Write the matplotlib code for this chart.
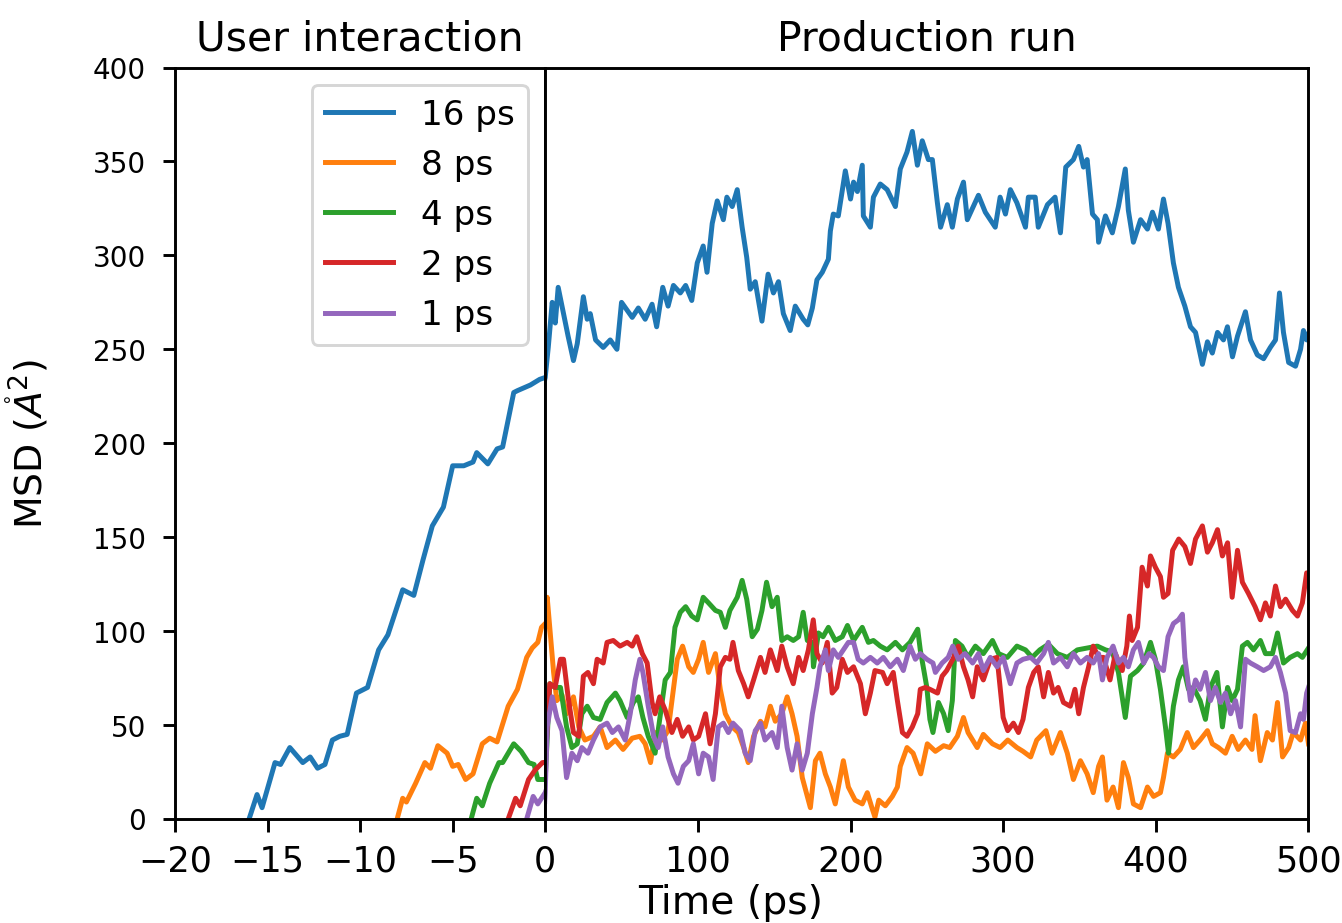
import matplotlib
matplotlib.use("Agg")
import matplotlib.pyplot as plt

labels = ["16 ps", "8 ps", "4 ps", "2 ps", "1 ps"]
colors = ["#1f77b4", "#ff7f0e", "#2ca02c", "#d62728", "#9467bd"]

t16 = [-16, -15.57, -15.3, -14.6, -14.3, -13.8, -13.1, -12.7, -12.3, -11.9, -11.5, -11.1, -10.7,
       -10.2, -9.6, -9.0, -8.5, -7.7, -7.1, -6.6, -6.1, -5.5, -5.0, -4.4, -3.9, -3.7, -3.1, -2.6,
       -2.3, -1.7, -1.5, -0.8, -0.3, 0,
       2, 4.6, 6.6, 8.5, 12, 15, 18.5, 21, 25, 27.5, 29.5, 33, 38, 42.6, 47, 50, 57, 61, 65.5, 70,
       73, 77, 80.5, 84, 88.5, 92, 96, 99.6, 103.5, 106, 109.4, 112.7, 116.7, 119, 122.5, 125.8,
       129, 132, 134.3, 137.6, 142, 146, 149.5, 152.8, 156, 160.5, 163.8, 169, 172, 175, 178,
       181.5, 185.5, 186.8, 188.7, 192, 196.6, 200, 202, 204.5, 207.7, 208.4, 213, 215, 219.5,
       224, 229.4, 232.6, 237, 240.5, 243.8, 247, 251, 253.6, 256.9, 259, 263.4, 266.7, 270, 274,
       276.5, 283.8, 288.3, 294.8, 298, 301.5, 304.7, 309, 314.6, 316.5, 321, 323, 329, 334,
       337.5, 341, 346, 349.5, 352.6, 355, 358.5, 361.7, 362.5, 367, 371.5, 375.5, 380, 382,
       385.3, 390, 394.5, 397.8, 401.7, 405, 408, 411.5, 414.8, 419, 422.7, 426, 430.5, 433.8,
       437, 440.4, 444.3, 446.9, 450.2, 453.5, 458.7, 462, 466.5, 470.6, 475, 478.4, 481, 483.6,
       487, 491.5, 494.8, 496.7, 498.8, 500]
y16 = [0, 13, 6, 30, 29, 38, 30, 33, 27, 29, 42, 44, 45,
       67, 70, 90, 98, 122, 119, 138, 156, 166, 188, 188, 190, 195, 189, 197,
       198, 227, 228, 231, 234, 235,
       251, 275, 264, 283, 269, 257, 244, 253, 278, 266, 269, 255, 251, 255, 250, 275, 267, 272, 266, 274,
       262, 283, 273, 284, 280, 284, 276, 296, 305, 291, 317, 329, 319, 331, 326, 335,
       315, 299, 282, 286, 265, 290, 280, 286, 269, 260, 273, 266, 263, 272, 287,
       291, 298, 313, 322, 321, 345, 330, 339, 334, 348, 321, 315, 331, 338,
       335, 326, 346, 355, 366, 348, 361, 351, 351, 328, 315, 327, 315, 330, 339,
       319, 332, 323, 315, 331, 322, 335, 328, 315, 331, 331, 315, 327, 331,
       312, 347, 351, 358, 347, 351, 322, 319, 307, 321, 312, 326, 346, 324,
       307, 319, 314, 323, 314, 330, 317, 296, 283, 273, 262, 259, 242, 254,
       248, 259, 255, 262, 246, 257, 270, 255, 247, 245, 251, 255, 280, 259,
       243, 241, 250, 260, 255, 258]

t8 = [-8, -7.7, -7.5, -7.0, -6.5, -6.2, -5.8, -5.3, -5.0, -4.7, -4.3, -3.9, -3.4, -3.0, -2.6,
      -2.0, -1.5, -1.0, -0.7, -0.4, -0.2, 0,
      1.3, 3, 5.5, 7.6, 11, 14, 18.5, 22, 26, 31.6, 36, 40.5, 46, 51, 57, 62, 65.5, 69, 72, 76.5,
      80.5, 83, 86.5, 90, 94, 97, 100.5, 103.5, 107, 111.5, 114.7, 118, 122.5, 126.5, 130, 133,
      136.5, 141, 144, 147.5, 150.7, 155, 158.5, 161.7, 165, 168.4, 171.7, 173.7, 177, 180,
      183.5, 186.8, 190, 193, 195.3, 198.6, 203, 207.7, 211, 214, 216, 218.5, 222.8, 227.4,
      230.7, 232.6, 237, 241, 246, 250.3, 255.6, 261, 265, 270, 274, 277, 283, 287, 293, 298,
      303, 309, 313, 318, 322, 328, 332, 337.5, 342, 346, 350.6, 355, 359, 362.5, 365, 368,
      372, 375.5, 378.8, 382, 385.3, 390, 394.5, 398.5, 403, 405, 407.6, 411.5, 416, 420.6,
      424.6, 429, 433.8, 437, 441, 445.6, 450, 454, 458.7, 463, 465, 468.5, 473, 476.4, 479.7,
      483, 487, 490, 494.8, 498, 500]
y8 = [0, 11, 9, 19, 30, 27, 39, 35, 28, 29, 21, 24, 40, 43, 41,
      60, 69, 86, 91, 94, 102, 104,
      118, 102, 78, 63, 66, 56, 65, 49, 42, 44, 49, 38, 42, 37, 43, 44, 40, 30, 46, 42,
      47, 63, 85, 92, 81, 78, 85, 94, 78, 88, 69, 56, 49, 46, 38, 30,
      44, 52, 49, 60, 52, 56, 65, 56, 44, 22, 12, 6, 31, 35,
      24, 17, 8, 21, 31, 17, 10, 8, 14, 6, 1, 10, 7, 12,
      17, 28, 38, 35, 24, 40, 36, 39, 38, 44, 54, 46, 38, 45, 40, 38,
      42, 38, 36, 33, 42, 47, 35, 46, 35, 21, 31, 24, 14, 28, 33, 10,
      17, 6, 30, 22, 8, 6, 17, 12, 14, 22, 35, 33, 37, 46,
      38, 42, 47, 40, 38, 35, 44, 37, 42, 37, 55, 31, 46, 42, 62,
      33, 38, 46, 42, 51, 40]

t4 = [-4, -3.7, -3.4, -3.0, -2.5, -2.3, -1.7, -1.3, -0.9, -0.6, -0.4, 0,
      3, 6.5, 10, 14, 17.5, 21, 24, 27.5, 31.6, 36, 40.5, 46, 49, 53.7, 57.7, 61, 64, 67.5, 72,
      75, 78.6, 82, 85, 88.5, 92, 96, 99.6, 103.5, 107, 111.5, 114.7, 118, 121, 125.8, 129,
      132, 135.6, 139, 142, 145, 148.6, 152, 155, 158.5, 162.5, 166, 169, 171.7, 175, 175.7,
      179, 182, 185.5, 190, 194.6, 198, 202, 207.7, 211.7, 215, 219.5, 224, 229.4, 234, 239,
      244, 245.7, 250, 252, 254, 257.6, 261, 264, 266.7, 268.7, 273, 277, 281.8, 287, 293, 297,
      302.7, 309, 314.6, 319, 324, 329.6, 335.5, 342, 348.6, 355, 361.7, 367, 371.5, 375.5,
      380, 383.4, 388, 392, 396.5, 399.7, 403, 406.3, 408.3, 411.5, 414.8, 418, 421.4, 424.6,
      429, 432.5, 435.8, 440, 443.6, 447, 450, 453.5, 456.7, 460, 464, 468.5, 471.8, 476.4,
      479.7, 483.6, 488, 492.8, 496, 500]
y4 = [0, 11, 7, 19, 30, 30, 40, 36, 30, 29, 21, 21,
      72, 70, 70, 49, 38, 40, 56, 60, 54, 53, 62, 67, 63, 54, 62, 65, 54, 44, 35,
      53, 74, 78, 102, 110, 113, 108, 106, 118, 115, 111, 110, 102, 111, 118, 127,
      117, 97, 101, 111, 126, 113, 118, 95, 97, 95, 97, 110, 95, 94, 81,
      99, 97, 102, 95, 97, 103, 95, 102, 94, 95, 92, 90, 94, 90, 94,
      101, 90, 70, 53, 46, 62, 56, 47, 63, 95, 92, 86, 92, 88, 95, 88,
      86, 92, 90, 86, 90, 93, 88, 86, 90, 91, 92, 90, 89, 78,
      54, 76, 79, 83, 94, 85, 69, 49, 35, 60, 74, 81, 69, 70,
      63, 53, 70, 78, 49, 70, 63, 69, 92, 94, 90, 95, 88, 88,
      99, 83, 86, 88, 86, 91]

t2 = [-2.0, -1.6, -1.35, -0.9, -0.55, -0.15, 0,
      3, 6.5, 10, 12, 15, 18.5, 22, 25, 28, 31.6, 34, 38, 40.5, 44.6, 49, 53.7, 57, 60, 63.6,
      66.8, 70, 72, 75, 78.6, 83, 86.5, 90, 94, 97, 100.5, 105, 108, 111.5, 114.7, 118, 121, 123,
      126.5, 130, 133, 136.5, 141, 144, 147.5, 152, 155, 158.5, 162.5, 166, 169, 172.4, 175.6,
      178, 181.5, 184.8, 188, 191, 194.6, 198, 202, 206.5, 209.7, 213, 216, 221, 224, 228,
      230.7, 234, 237, 240.5, 244, 245.7, 249, 252, 257, 260, 263, 267, 270.6, 274, 277, 280,
      283, 287, 291.6, 296, 298, 300, 303, 306.7, 310, 313, 316.5, 320, 323, 326.5, 329.6, 333,
      336, 339.5, 344, 347, 349.5, 352.6, 356, 359, 362.5, 365.7, 370, 373.5, 378, 381, 382.7,
      384.5, 388, 391, 394.5, 396.5, 399.7, 403, 405, 408, 411, 415, 419, 422.7, 426, 430.5,
      433.8, 437, 440.4, 443.6, 447, 450, 453.5, 456.7, 460.7, 465, 468.5, 471.8, 475, 478.4,
      481.6, 485, 489.5, 492.8, 496, 498.8, 500]
y2 = [0, 11, 7, 21, 26, 30, 30,
      72, 70, 85, 85, 65, 46, 44, 76, 78, 72, 85, 83, 94, 95, 92, 94, 92, 97, 88,
      83, 62, 56, 65, 58, 46, 53, 44, 49, 42, 44, 56, 40, 56, 81, 86, 85, 94,
      79, 72, 65, 74, 86, 78, 90, 79, 92, 81, 72, 86, 79, 90, 106,
      88, 83, 94, 67, 70, 85, 78, 81, 72, 56, 67, 79, 78, 72, 78,
      63, 46, 44, 49, 56, 69, 70, 69, 67, 76, 79, 85, 92, 81, 74, 65,
      81, 74, 85, 86, 70, 54, 47, 51, 46, 53, 70, 78, 81, 65, 78, 67,
      70, 62, 60, 69, 56, 70, 81, 92, 86, 86, 74, 88, 79, 92, 108,
      95, 102, 134, 124, 140, 134, 129, 118, 120, 143, 149, 145, 136, 149, 156,
      142, 147, 154, 140, 147, 118, 143, 126, 120, 113, 106, 115, 108, 124,
      113, 117, 111, 108, 115, 131, 130]

t1 = [-1, -0.65, -0.4, 0,
      1.3, 4.6, 7.6, 11, 14, 17.5, 21, 24, 28, 31.6, 36, 40.5, 44, 48, 52.4, 55.7, 59, 62, 64,
      67.5, 71, 74, 77, 80.5, 84, 87, 90.5, 94, 97, 100.5, 103.5, 107, 110, 113.4, 116.7, 120,
      123, 127.8, 131, 134.3, 137.6, 141, 144, 148.6, 152, 155, 158.5, 161.7, 165, 168.4, 171.7,
      175, 178, 180, 183.5, 185.5, 188.7, 192, 195.3, 198.6, 202, 205, 208.4, 213, 217.5, 221.5,
      226, 230.7, 234.6, 239, 242.5, 245.7, 250, 254, 255.6, 260, 264, 267, 270.6, 275, 280,
      283.8, 287, 291.6, 296, 300, 304.7, 309, 313, 318, 322, 326.5, 329.6, 333, 337.5, 342,
      346, 350.6, 355, 359, 362.5, 365, 368, 372, 375.5, 378.8, 382, 385.3, 388.6, 392, 395.5,
      398.5, 401.7, 405, 408, 411.5, 414.8, 417.4, 419, 422.7, 426, 429, 432.5, 435.8, 439,
      442.3, 445.6, 449, 452.2, 455.5, 458.7, 462, 466.5, 470.6, 475, 478.4, 481.6, 485, 488,
      491.5, 494.8, 496.7, 498.8, 500]
y1 = [0, 12, 8, 14,
      49, 65, 54, 47, 22, 35, 31, 38, 35, 42, 49, 51, 46, 49, 42, 56, 74, 85, 78,
      60, 44, 38, 49, 33, 24, 19, 28, 31, 40, 24, 35, 33, 21, 49, 51, 46,
      51, 47, 35, 31, 47, 51, 42, 46, 38, 60, 38, 26, 40, 26, 35,
      56, 70, 81, 90, 79, 90, 86, 90, 94, 94, 85, 83, 86, 83, 86,
      81, 85, 79, 92, 85, 88, 85, 83, 78, 83, 86, 92, 85, 88, 83,
      88, 79, 86, 81, 86, 72, 83, 85, 86, 83, 88, 94, 83, 86, 81,
      88, 83, 86, 83, 88, 74, 86, 92, 83, 86, 81, 90, 94, 83, 88,
      86, 81, 79, 97, 104, 106, 109, 86, 63, 74, 69, 78, 63, 70,
      62, 67, 56, 63, 49, 85, 83, 81, 79, 81, 86, 78, 67, 47,
      46, 56, 53, 67, 70]

times = [t16, t8, t4, t2, t1]
values = [y16, y8, y4, y2, y1]

plt.rcParams["axes.linewidth"] = 1.0
plt.rcParams["xtick.major.width"] = 1.0
plt.rcParams["ytick.major.width"] = 1.0
plt.rcParams["xtick.major.size"] = 4.5
plt.rcParams["ytick.major.size"] = 4.0

W, H, DPI = 1342, 923, 210
fig = plt.figure(figsize=((W + 0.5) / DPI, (H + 0.5) / DPI), dpi=DPI)
left, mid, right = 175 / W, 545 / W, 1308 / W
bottom, top = 1 - 819 / H, 1 - 68 / H
ax1 = fig.add_axes([left, bottom, mid - left, top - bottom])
ax2 = fig.add_axes([mid, bottom, right - mid, top - bottom], sharey=ax1)

for t, y, c, lab in zip(times, values, colors, labels):
    ax1.plot(t, y, color=c, lw=1.7, label=lab)
    ax2.plot(t, y, color=c, lw=1.7)

ax1.set_xlim(-20, 0)
ax2.set_xlim(0, 500)
ax1.set_ylim(0, 400)
ax1.set_xticks([-20, -15, -10, -5, 0])
ax2.set_xticks([100, 200, 300, 400, 500])
ax1.set_yticks([0, 50, 100, 150, 200, 250, 300, 350, 400])
for ax in (ax1, ax2):
    ax.tick_params(axis="x", labelsize=12, pad=4)
ax1.tick_params(axis="y", labelsize=9.5, pad=6)
ax2.tick_params(axis="y", left=False, labelleft=False)
ax1.set_title("User interaction", fontsize=14, pad=6)
ax2.set_title("Production run", fontsize=14, pad=6)
ax1.set_ylabel(r"MSD ($\mathring{A}^2$)", fontsize=13)
ax1.yaxis.set_label_coords((50 - 175) / (545 - 175), 0.5)
fig.text(730 / W, 1 - 903 / H, "Time (ps)", ha="center", va="center", fontsize=13.5)
ax1.legend(loc="upper right", fontsize=11.7)

fig.savefig("out.png", dpi=DPI)
